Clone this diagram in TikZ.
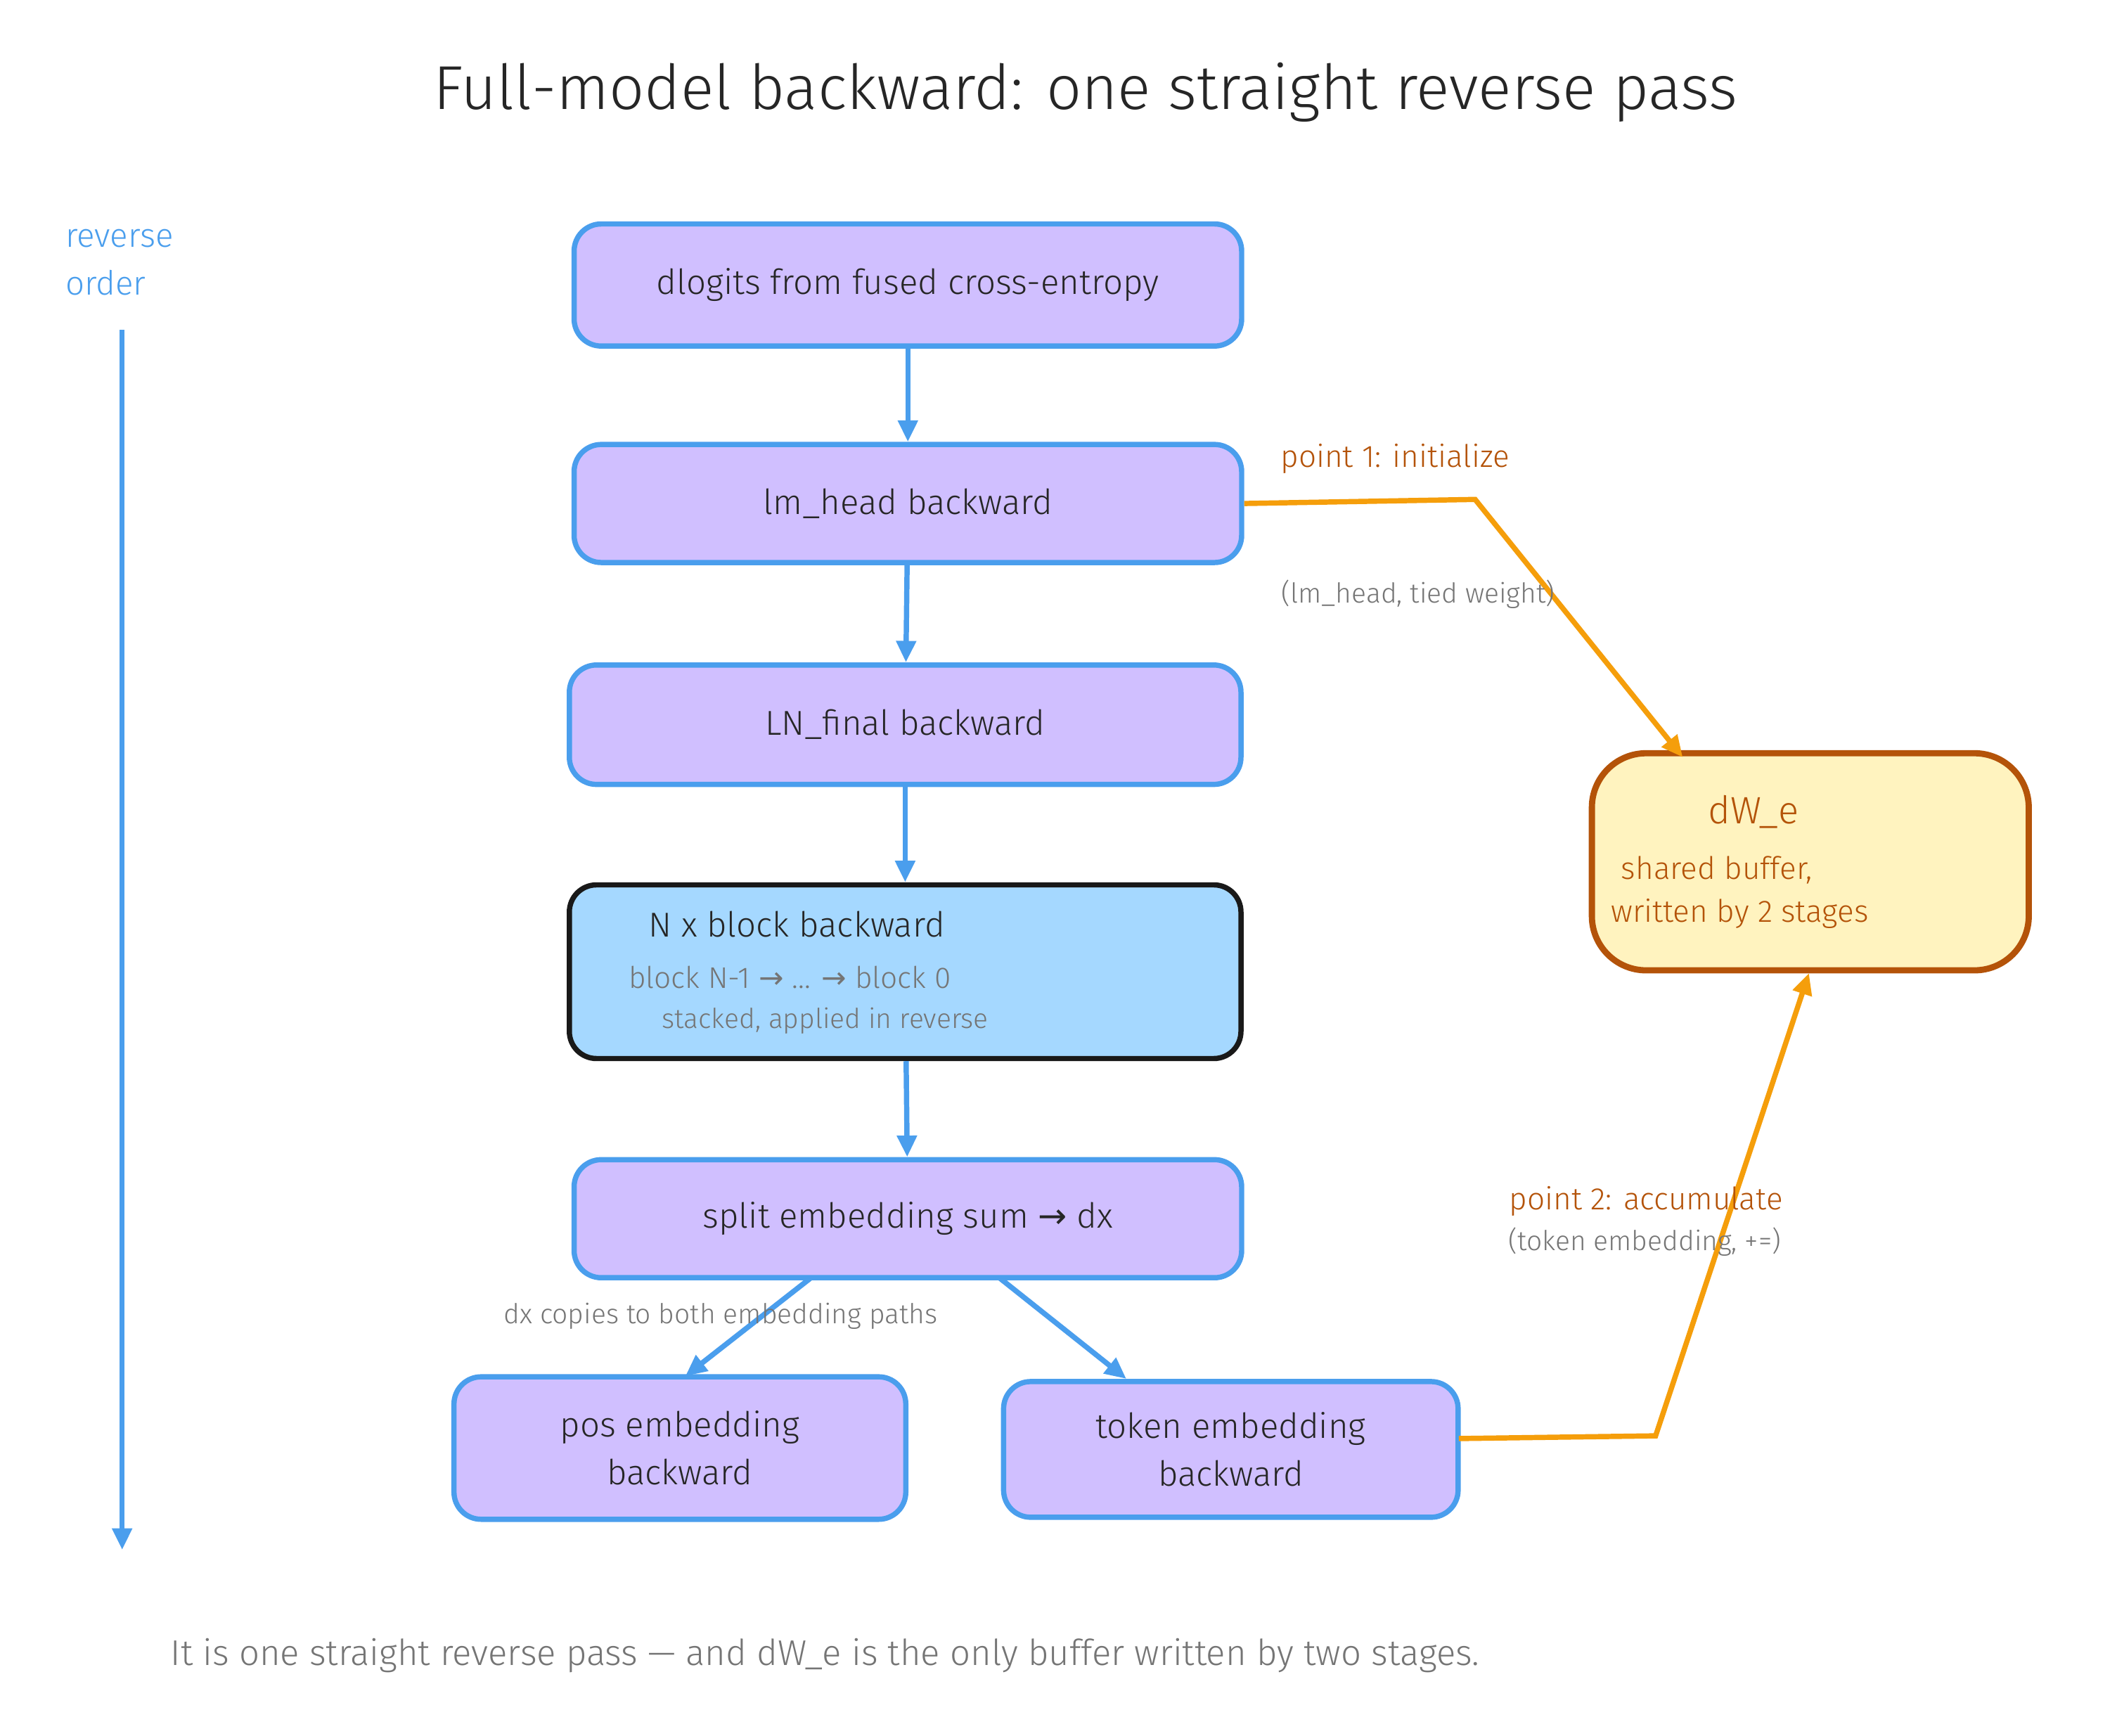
\documentclass[tikz,border=0pt]{standalone}
\usepackage{fontspec}
\setmainfont{Fira Sans Light}[BoldFont=Fira Sans]
\newfontfamily\sym{DejaVu Sans}
\usetikzlibrary{arrows.meta}
\definecolor{bl}{HTML}{4A9EED}
\definecolor{vio}{HTML}{D0BFFF}
\definecolor{lb}{HTML}{A5D8FF}
\definecolor{org}{HTML}{F59E0B}
\definecolor{brn}{HTML}{B45309}
\definecolor{ylw}{HTML}{FFF3BF}
\definecolor{gr}{HTML}{757575}
\begin{document}
\begin{tikzpicture}[x=0.02cm,y=-0.02cm,
  box/.style={draw=bl,fill=vio,line width=2.2pt,rounded corners=0.4cm,font=\fontsize{14.5}{20}\selectfont,align=center,text=black!85},
  arr/.style={draw=bl,line width=2.2pt,-{Triangle[length=9pt,width=8pt]}},
  oarr/.style={draw=org,line width=2.2pt,-{Triangle[length=9pt,width=8pt]}},
  gt/.style={text=gr,font=\fontsize{11.5}{15}\selectfont},
  ot/.style={text=brn,font=\fontsize{13}{17}\selectfont}]
\useasboundingbox[fill=white] (0,0) rectangle (1560,1279);
\node[font=\fontsize{26}{32}\selectfont,text=black!85] (title) at (800,68) {Full-model backward: one straight reverse pass};
\node[anchor=north west,align=left,text=bl,font=\fontsize{14}{20}\selectfont] (ro) at (42,163) {reverse\\order};
\coordinate (r1) at (90,243); \coordinate (r2) at (90,1142);
\draw[arr] (r1) -- (r2);
\node[box,minimum width=9.84cm,minimum height=1.8cm] (b1) at (669,210) {dlogits from fused cross-entropy};
\node[box,minimum width=9.84cm,minimum height=1.74cm] (b2) at (669,371) {lm\_head backward};
\node[box,minimum width=9.9cm,minimum height=1.76cm] (b3) at (667,534) {LN\_final backward};
\node[box,draw=black!90,fill=lb,minimum width=9.9cm,minimum height=2.56cm] (b4) at (667,716) {};
\node[font=\fontsize{14.5}{20}\selectfont,text=black!85] (t4a) at (587,681) {N x block backward};
\node[text=gr,font=\fontsize{12.5}{16}\selectfont] (t4b) at (582,720) {block N-1 {\sym→} ... {\sym→} block 0};
\node[gt] (t4c) at (608,752) {stacked, applied in reverse};
\node[box,minimum width=9.84cm,minimum height=1.74cm] (b5) at (669,898) {split embedding sum {\sym→} dx};
\node[box,minimum width=6.66cm,minimum height=2.1cm] (b6) at (501,1067) {pos embedding\\backward};
\node[box,minimum width=6.7cm,minimum height=2.0cm] (b7) at (907,1068) {token embedding\\backward};
\node[draw=brn,fill=ylw,line width=2.6pt,rounded corners=0.8cm,minimum width=6.44cm,minimum height=3.2cm] (dw) at (1334,635) {};
\node[text=brn,font=\fontsize{16}{20}\selectfont] (dwa) at (1292,598) {dW\_e};
\node[ot] (dwb) at (1265,641) {shared buffer,};
\node[ot] (dwc) at (1282,673) {written by 2 stages};
\draw[arr] (b1) -- (b2);
\draw[arr] (b2) -- (b3);
\draw[arr] (b3) -- (b4);
\draw[arr] (b4) -- (b5);
\coordinate (s1) at (597,942); \coordinate (s2) at (737,942);
\coordinate (e6) at (505,1014); \coordinate (e7) at (830,1016);
\draw[arr] (s1) -- (e6);
\draw[arr] (s2) -- (e7);
\node[gt] (dxc) at (531,970) {dx copies to both embedding paths};
\coordinate (k1) at (1087,368); \coordinate (d1) at (1240,558);
\draw[oarr] (b2.east) -- (k1) -- (d1);
\node[ot] (p1) at (1028,338) {point 1: initialize};
\node[gt] (p1b) at (1045,438) {(lm\_head, tied weight)};
\coordinate (k2) at (1220,1058); \coordinate (a7) at (1075,1060); \coordinate (d2) at (1333,717);
\draw[oarr] (a7) -- (k2) -- (d2);
\node[ot] (p2) at (1213,885) {point 2: accumulate};
\node[gt] (p2b) at (1212,915) {(token embedding, +=)};
\node[text=gr,font=\fontsize{15}{20}\selectfont] (cap) at (608,1220) {It is one straight reverse pass — and dW\_e is the only buffer written by two stages.};
\end{tikzpicture}
\end{document}
